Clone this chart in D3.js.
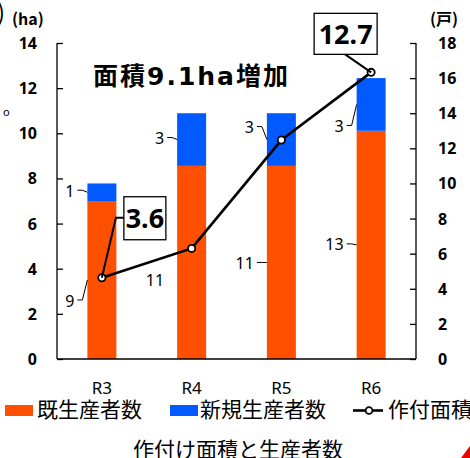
<!DOCTYPE html>
<html>
<head>
<meta charset="utf-8">
<script src="https://cdn.jsdelivr.net/npm/d3@7"></script>
<style>
  body { margin: 0; background: #fff; }
  svg { display: block; font-family: "Noto Sans CJK JP", "Noto Sans", sans-serif; }
</style>
</head>
<body>
<svg width="470" height="458"></svg>
<script>
// data
var years = ['R3', 'R4', 'R5', 'R6'];
var existing = [9, 11, 11, 13];     // 既生産者数 (戸)
var newcomers = [1, 3, 3, 3];       // 新規生産者数 (戸)
var area = [3.6, 4.9, 9.7, 12.7];   // 作付面積 (ha)
var leftTicks = [0, 2, 4, 6, 8, 10, 12, 14];
var rightTicks = [0, 2, 4, 6, 8, 10, 12, 14, 16, 18];

var orange = '#ff5000', blue = '#005aff';

var svg = d3.select('svg');

var x = d3.scaleBand()
          .domain(years)
          .range([57, 416])
          .paddingInner(0.677)
          .paddingOuter(0.3385);
var yL = d3.scaleLinear().domain([0, 14]).range([359, 43]);
var yR = d3.scaleLinear().domain([0, 18]).range([359, 43]);

// bars
var bars = svg.append('g');
bars.selectAll('rect.old')
  .data(years)
  .enter()
  .append('rect')
    .attr('class', 'old')
    .attr('x', d => x(d))
    .attr('width', x.bandwidth())
    .attr('y', (d, i) => yR(existing[i]))
    .attr('height', (d, i) => yR(0) - yR(existing[i]))
    .style('fill', orange);
bars.selectAll('rect.new')
  .data(years)
  .enter()
  .append('rect')
    .attr('class', 'new')
    .attr('x', d => x(d))
    .attr('width', x.bandwidth())
    .attr('y', (d, i) => yR(existing[i] + newcomers[i]))
    .attr('height', (d, i) => yR(existing[i]) - yR(existing[i] + newcomers[i]))
    .style('fill', blue);

// axes
var leftAxis = d3.axisRight(yL).tickValues(leftTicks).tickSize(6).tickFormat('');
var gl = svg.append('g').attr('transform', 'translate(57,0)').call(leftAxis);
gl.select('.domain').remove();
gl.append('line').attr('x1', 0).attr('x2', 0).attr('y1', 43).attr('y2', 359).style('stroke', '#000').style('stroke-width', 1.3);
gl.selectAll('.tick line').style('stroke', '#000').style('stroke-width', 1.3);

var rightAxis = d3.axisLeft(yR).tickValues(rightTicks).tickSize(6).tickFormat('');
var gr = svg.append('g').attr('transform', 'translate(416,0)').call(rightAxis);
gr.select('.domain').remove();
gr.append('line').attr('x1', 0).attr('x2', 0).attr('y1', 43).attr('y2', 359).style('stroke', '#000').style('stroke-width', 1.3);
gr.selectAll('.tick line').style('stroke', '#000').style('stroke-width', 1.3);

svg.append('line')
  .attr('x1', 57).attr('x2', 416)
  .attr('y1', yL(0)).attr('y2', yL(0))
  .style('stroke', '#000').style('stroke-width', 1.3);

svg.selectAll('text.lt')
  .data(leftTicks)
  .enter()
  .append('text')
    .attr('class', 'lt')
    .attr('x', 37)
    .attr('y', d => yL(d) + 6)
    .attr('text-anchor', 'end')
    .style('font-family', '"Noto Sans", sans-serif')
    .style('font-weight', 'bold')
    .style('font-size', '16px')
    .text(d => d);

svg.selectAll('text.rt')
  .data(rightTicks)
  .enter()
  .append('text')
    .attr('class', 'rt')
    .attr('x', 438)
    .attr('y', d => yR(d) + 6)
    .style('font-family', '"Noto Sans", sans-serif')
    .style('font-weight', 'bold')
    .style('font-size', '16px')
    .text(d => d);

svg.selectAll('text.cat')
  .data(years)
  .enter()
  .append('text')
    .attr('class', 'cat')
    .attr('x', d => x(d) + x.bandwidth() / 2)
    .attr('y', 394)
    .attr('text-anchor', 'middle')
    .style('font-family', '"Noto Sans", sans-serif')
    .style('font-size', '17px')
    .text(d => d);

// units
svg.append('text').attr('x', 12).attr('y', 25)
  .style('font-weight', 'bold').style('font-size', '16px').text('(ha)');
svg.append('text').attr('x', 430).attr('y', 25)
  .style('font-weight', 'bold').style('font-size', '16px').text('(戸)');
svg.append('text').attr('x', -3).attr('y', 21)
  .style('font-size', '24px').text(')');
svg.append('text').attr('x', 3).attr('y', 116)
  .style('font-family', '"Noto Sans", sans-serif').style('font-size', '11px').text('o');

// bar data labels (nudge = vertical offset from segment middle)
var labels = [];
years.forEach((d, i) => {
  labels.push({ cat: d, v: existing[i], mid: yR(existing[i] / 2), nudge: [21, 18, 1, 0][i], leader: i != 1 });
  labels.push({ cat: d, v: newcomers[i], mid: yR(existing[i] + newcomers[i] / 2), nudge: [-1, -1, -12, 22][i], leader: true });
});
var lg = svg.append('g');
labels.forEach(l => {
  var right = x(l.cat) - 13;
  var ly = l.mid + l.nudge;
  lg.append('text')
    .attr('x', right)
    .attr('y', ly + 5.5)
    .attr('text-anchor', 'end')
    .style('font-family', '"Noto Sans", sans-serif')
    .style('font-size', '16px')
    .text(l.v);
  if (l.leader) {
    lg.append('path')
      .attr('d', d3.line()([[right + 3, ly - 1], [right + 8, ly - 1], [x(l.cat), l.mid]]))
      .style('fill', 'none').style('stroke', '#000').style('stroke-width', 1);
  }
});

// area line
var pts = years.map((d, i) => [x(d) + x.bandwidth() / 2, yL(area[i])]);
svg.append('path')
  .attr('d', d3.line()(pts))
  .style('fill', 'none').style('stroke', '#000').style('stroke-width', 2.6);
svg.selectAll('circle.pt')
  .data(pts)
  .enter()
  .append('circle')
    .attr('class', 'pt')
    .attr('cx', d => d[0])
    .attr('cy', d => d[1])
    .attr('r', 3.6)
    .style('fill', '#fff').style('stroke', '#000').style('stroke-width', 1.8);

// callouts for first and last point
var callouts = [
  { i: 0, dx: 22, dy: -81, w: 42, h: 43, leader: [[14, -60], [22, -60]] },
  { i: 3, dx: -57, dy: -59, w: 63, h: 41, leader: [[-26, -18]] }
];
callouts.forEach(c => {
  var p = pts[c.i];
  var bx = p[0] + c.dx, by = p[1] + c.dy;
  svg.append('path')
    .attr('d', d3.line()([p].concat(c.leader.map(q => [p[0] + q[0], p[1] + q[1]]))))
    .style('fill', 'none').style('stroke', '#000').style('stroke-width', 2);
  svg.append('rect')
    .attr('x', bx).attr('y', by).attr('width', c.w).attr('height', c.h)
    .style('fill', '#fff').style('stroke', '#000').style('stroke-width', 1.3);
  svg.append('text')
    .attr('x', bx + c.w / 2)
    .attr('y', by + c.h / 2 + 10)
    .attr('text-anchor', 'middle')
    .style('font-family', '"Noto Sans", sans-serif')
    .style('font-weight', 'bold')
    .style('font-size', '27px')
    .text(area[c.i].toFixed(1));
});

// headline
svg.append('text')
  .attr('x', 93).attr('y', 85)
  .style('font-family', '"DejaVu Sans", "Noto Sans CJK JP", sans-serif')
  .style('font-weight', 'bold')
  .style('font-size', '25px')
  .style('letter-spacing', '2px')
  .text('面積' + (area[3] - area[0]).toFixed(1) + 'ha増加');

// legend
var leg = svg.append('g');
leg.append('rect').attr('x', 5).attr('y', 405).attr('width', 28).attr('height', 11).style('fill', orange);
leg.append('text').attr('x', 37).attr('y', 417).style('font-size', '21px').text('既生産者数');
leg.append('rect').attr('x', 170).attr('y', 405).attr('width', 28).attr('height', 11).style('fill', blue);
leg.append('text').attr('x', 200).attr('y', 417).style('font-size', '21px').text('新規生産者数');
leg.append('line').attr('x1', 353).attr('x2', 383).attr('y1', 410.5).attr('y2', 410.5)
  .style('stroke', '#000').style('stroke-width', 2.6);
leg.append('circle').attr('cx', 369).attr('cy', 410.5).attr('r', 3.4)
  .style('fill', '#fff').style('stroke', '#000').style('stroke-width', 1.8);
leg.append('text').attr('x', 388).attr('y', 417).style('font-size', '21px').text('作付面積');

svg.append('text')
  .attr('x', 238).attr('y', 457)
  .attr('text-anchor', 'middle')
  .style('font-size', '21px')
  .text('作付け面積と生産者数');

svg.append('path')
  .attr('d', 'M470,446L470,458L461,458Z')
  .style('fill', '#e00');
</script>
</body>
</html>
